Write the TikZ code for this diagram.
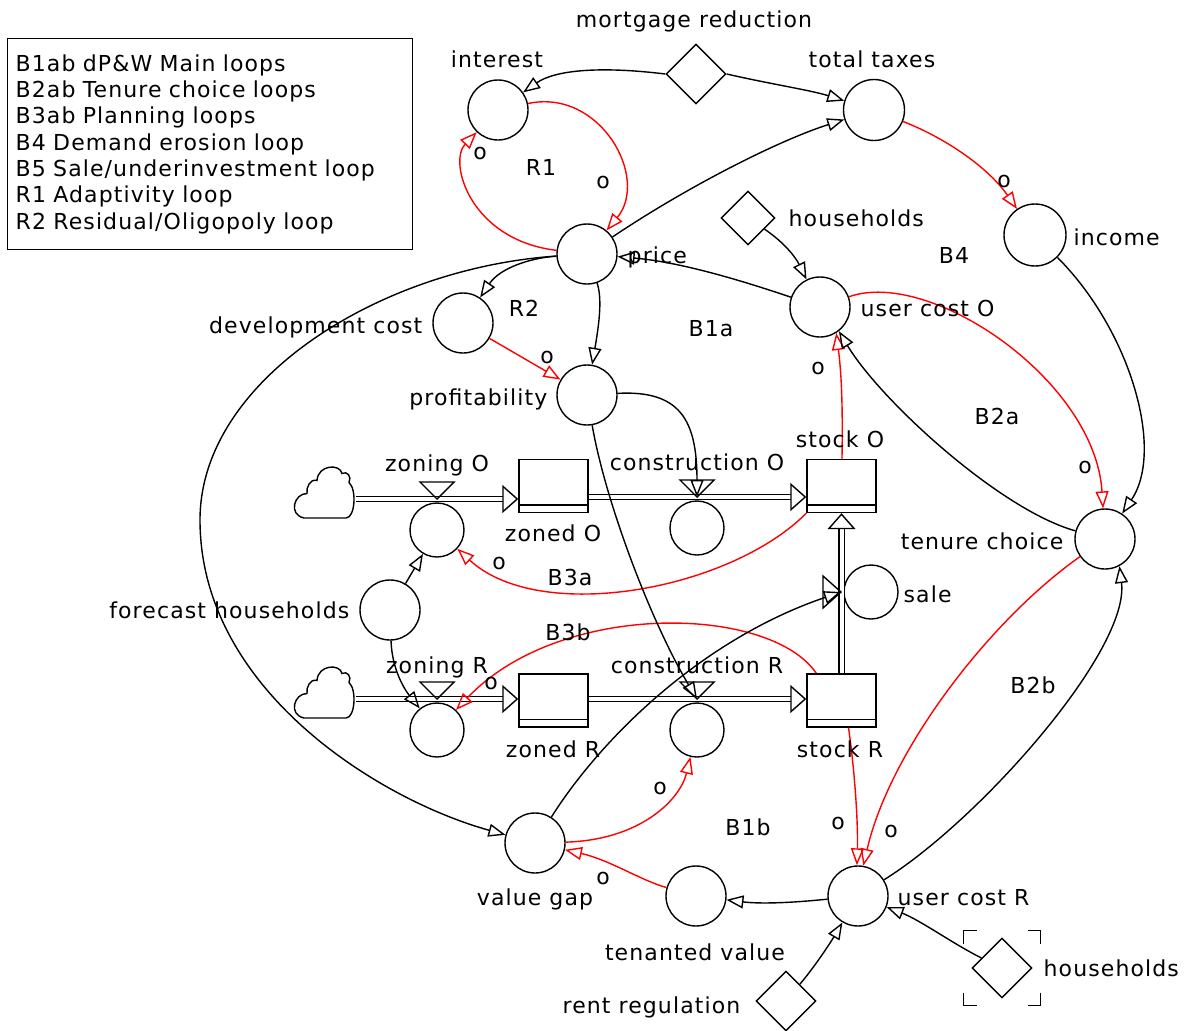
\documentclass[tikz,border=0pt]{standalone}
\usepackage{fontspec}
\setmainfont{DejaVu Sans}[LetterSpace=5]
\usetikzlibrary{arrows.meta,shapes.geometric}

\begin{document}
\begin{tikzpicture}[x=1pt, y=-1pt, line width=1.4pt,
    font=\fontsize{22}{26.3}\selectfont,
    aux/.style={circle, draw, minimum size=60pt, inner sep=0pt},
    rate/.style={circle, draw, minimum size=54pt, inner sep=0pt},
    const/.style={diamond, draw, minimum size=60pt, inner sep=0pt},
    stock/.style={draw, minimum width=69pt, minimum height=53pt, inner sep=0pt,
        path picture={\draw[line width=1.2pt] ([yshift=7.5pt]path picture bounding box.south west) -- ([yshift=7.5pt]path picture bounding box.south east);}},
    source/.style={minimum width=62pt, minimum height=51pt, inner sep=0pt},
    lbl/.style={inner sep=0pt, text height=16pt, text depth=0pt},
    pol/.style={inner sep=0pt, text height=12pt, text depth=0pt},
    link/.style={-{Triangle[open, length=17pt, width=13pt]}},
    neg/.style={link, red},
    flow/.style={double, double distance=4pt, -{Triangle[open, length=16pt, width=28pt]}},
    valve/.style={draw, line join=miter}]
    \useasboundingbox (0,0) rectangle (1184,1031);

    % legend
    \node[draw, anchor=north west, align=left, text width=389pt, minimum height=211pt, inner sep=8pt] (legend) at (7,38)
        {B1ab dP\&W Main loops\\B2ab Tenure choice loops\\B3ab Planning loops\\B4 Demand erosion loop\\B5 Sale/underinvestment loop\\R1 Adaptivity loop\\R2 Residual/Oligopoly loop};

    % variables
    \node[aux] (interest) at (498,110) {};
    \node[const] (mort) at (696,74) {};
    \node[aux, minimum size=61pt] (taxes) at (874,110) {};
    \node[aux] (price) at (587,254) {};
    \node[const, minimum size=54pt] (hhO) at (748,218) {};
    \node[aux] (ucO) at (820,307) {};
    \node[aux, minimum size=62pt] (income) at (1035,235) {};
    \node[aux] (devcost) at (463,323) {};
    \node[aux] (profit) at (587,395) {};
    \node[aux] (tenure) at (1105,539) {};
    \node[aux] (fcast) at (390,610) {};
    \node[aux] (vgap) at (535,843) {};
    \node[aux] (tenv) at (696,896) {};
    \node[aux] (ucR) at (858,896) {};
    \node[const] (rent) at (786,1001) {};
    \node[const] (hhR) at (1002,968) {};

    % stocks and flows
    \node[source] (cloudO) at (324,492.5) {};
    \node[rate] (zoningO) at (437,530) {};
    \node[stock] (zonedO) at (553.5,486) {};
    \node[rate] (consO) at (697,528) {};
    \node[stock] (stockO) at (841.5,486) {};
    \node[rate] (sale) at (871,592) {};
    \node[source] (cloudR) at (324,692.5) {};
    \node[rate] (zoningR) at (437,730) {};
    \node[stock] (zonedR) at (553.5,700.5) {};
    \node[rate] (consR) at (697,730) {};
    \node[stock] (stockR) at (841.5,700.5) {};
    \coordinate (zoningOv) at (437,499);
    \coordinate (consOv) at (697,497);
    \coordinate (zoningRv) at (437,699);
    \coordinate (consRv) at (697,699);
    \coordinate (saleV) at (841,592);
    \coordinate (bend) at (200,520);

    \foreach \c in {cloudO,cloudR}
        \draw[shift={(\c)}, yscale=-1] (-20,-25.5) -- (22,-25.5)
            .. controls (31,-25.5) and (33,3) .. (25,10)
            .. controls (28,16) and (23,22) .. (18,19)
            .. controls (16,29) and (-6,28) .. (-7,12)
            .. controls (-14,14) and (-18,5) .. (-17,-1)
            .. controls (-30,-1) and (-36,-22) .. (-20,-25.5) -- cycle;

    \draw[flow] (cloudO.east |- zoningOv) -- (zonedO.west |- zoningOv);
    \draw[flow] (zonedO.east |- consOv) -- (stockO.west |- consOv);
    \draw[flow] (cloudR.east |- zoningRv) -- (zonedR.west |- zoningRv);
    \draw[flow] (zonedR.east |- consRv) -- (stockR.west |- consRv);
    \draw[flow] (stockR.north) -- (stockO.south);
    \draw[valve] (zoningOv) -- ++(-17,-17) -- ++(34,0) -- cycle;
    \draw[valve] (consOv) -- ++(-17,-17) -- ++(34,0) -- cycle;
    \draw[valve] (zoningRv) -- ++(-17,-17) -- ++(34,0) -- cycle;
    \draw[valve] (consRv) -- ++(-17,-17) -- ++(34,0) -- cycle;
    \draw[valve] (saleV) -- ++(-18,-16) -- ++(0,32) -- cycle;

    % shadow marks
    \foreach \sx/\sy in {-1/-1,1/-1,-1/1,1/1}
        \draw ([shift={(38.5*\sx,24.5*\sy)}]hhR.center) -- ++(0,13*\sy) -- ++(-13*\sx,0);

    % links
    \draw[link] (mort.west) .. controls (600,66) and (555,70) .. (interest);
    \draw[link] (mort.east) .. controls (770,84) and (810,90) .. (taxes);
    \draw[link] (price) .. controls (690,185) and (780,140) .. (taxes);
    \draw[neg] (interest) .. controls (600,88) and (650,178) .. (price);
    \draw[neg] (price) .. controls (470,240) and (448,162) .. (interest);
    \draw[link] (price) .. controls (530,258) and (500,268) .. (devcost);
    \draw[link] (price) .. controls (603,300) and (598,330) .. (profit);
    \draw[neg] (devcost) -- (profit);
    \draw[link] (price) .. controls (380,268) and (200,380) .. (bend) .. controls (200,690) and (380,800) .. (vgap);
    \draw[link] (hhO) .. controls (785,243) and (796,258) .. (ucO);
    \draw[link] (ucO) .. controls (740,280) and (680,262) .. (price);
    \draw[neg] (ucO) .. controls (930,268) and (1095,380) .. (tenure);
    \draw[neg] (taxes) .. controls (950,140) and (990,170) .. (income);
    \draw[link] (income) .. controls (1130,330) and (1165,450) .. (tenure);
    \draw[neg] (stockO) .. controls (843,400) and (841,370) .. (ucO.-58);
    \draw[link] (tenure) .. controls (1000,510) and (880,400) .. (ucO.-52);
    \draw[neg] (stockO.south west) .. controls (730,590) and (540,625) .. (zoningO);
    \draw[neg] ([xshift=10pt]stockR.north west) .. controls (770,605) and (560,600) .. (zoningR);
    \draw[link] (fcast) -- (zoningO);
    \draw[link] (fcast) .. controls (392,670) and (405,690) .. (zoningR);
    \draw[link] (profit) .. controls (680,390) and (697,420) .. (consOv);
    \draw[link] (profit) .. controls (605,500) and (650,620) .. (consRv);
    \draw[link] (vgap) .. controls (600,740) and (700,640) .. (saleV);
    \draw[neg] (vgap) .. controls (640,840) and (680,800) .. (consR);
    \draw[neg] (tenv) .. controls (640,880) and (610,860) .. (vgap);
    \draw[link] (ucR) .. controls (790,903) and (760,904) .. (tenv);
    \draw[link] (rent) .. controls (820,960) and (835,935) .. (ucR);
    \draw[link] (hhR) .. controls (955,945) and (920,920) .. (ucR);
    \draw[link] (ucR) .. controls (980,820) and (1130,650) .. (tenure.-62);
    \draw[neg] ([xshift=7pt]stockR.south) .. controls (856,780) and (858,830) .. (ucR.92);
    \draw[neg] (tenure) .. controls (990,620) and (890,750) .. (ucR.80);

    % names
    \node[lbl] (mortL) at (694,19) {mortgage reduction};
    \node[lbl] (interestL) at (497,59) {interest};
    \node[lbl] (taxesL) at (872,59) {total taxes};
    \node[lbl, anchor=west] (hhOL) at (788,218) {households};
    \node[lbl, anchor=west] (priceL) at (627,255) {price};
    \node[lbl, anchor=west] (ucOL) at (860,308) {user cost O};
    \node[lbl, anchor=west] (incomeL) at (1073,237) {income};
    \node[lbl, anchor=east] (devcostL) at (423,325) {development cost};
    \node[lbl, anchor=east] (profitL) at (548,397) {profitability};
    \node[lbl, anchor=east] (tenureL) at (1064,541) {tenure choice};
    \node[lbl] (stockOL) at (840,439) {stock O};
    \node[lbl] (zoningOL) at (437,463) {zoning O};
    \node[lbl] (consOL) at (697,462) {construction O};
    \node[lbl] (zonedOL) at (553,533) {zoned O};
    \node[lbl, anchor=west] (saleL) at (903,594) {sale};
    \node[lbl, anchor=east] (fcastL) at (350,610) {forecast households};
    \node[lbl] (zoningRL) at (437,665) {zoning R};
    \node[lbl] (consRL) at (697,665) {construction R};
    \node[lbl] (zonedRL) at (553,749) {zoned R};
    \node[lbl] (stockRL) at (840,749) {stock R};
    \node[lbl] (vgapL) at (535,897) {value gap};
    \node[lbl] (tenvL) at (695,952) {tenanted value};
    \node[lbl, anchor=west] (ucRL) at (897,897) {user cost R};
    \node[lbl, anchor=east] (rentL) at (741,1005) {rent regulation};
    \node[lbl, anchor=west] (hhRL) at (1043,968) {households};

    % loops
    \node[lbl] (R1) at (541,167) {R1};
    \node[lbl] (R2) at (524,308) {R2};
    \node[lbl] (B1a) at (711,328) {B1a};
    \node[lbl] (B4) at (954,255) {B4};
    \node[lbl] (B2a) at (997,416) {B2a};
    \node[lbl] (B3a) at (570,577) {B3a};
    \node[lbl] (B3b) at (568,632) {B3b};
    \node[lbl] (B2b) at (1033,685) {B2b};
    \node[lbl] (B1b) at (748,827) {B1b};

    % polarities
    \node[pol] (o1) at (480,153) {o};
    \node[pol] (o2) at (603,182) {o};
    \node[pol] (o3) at (1004,181) {o};
    \node[pol] (o4) at (547,357) {o};
    \node[pol] (o5) at (818,368) {o};
    \node[pol] (o6) at (1085,467) {o};
    \node[pol] (o7) at (499,563) {o};
    \node[pol] (o8) at (491,683) {o};
    \node[pol] (o9) at (660,788) {o};
    \node[pol] (o10) at (603,878) {o};
    \node[pol] (o11) at (838,823) {o};
    \node[pol] (o12) at (891,831) {o};
\end{tikzpicture}
\end{document}
